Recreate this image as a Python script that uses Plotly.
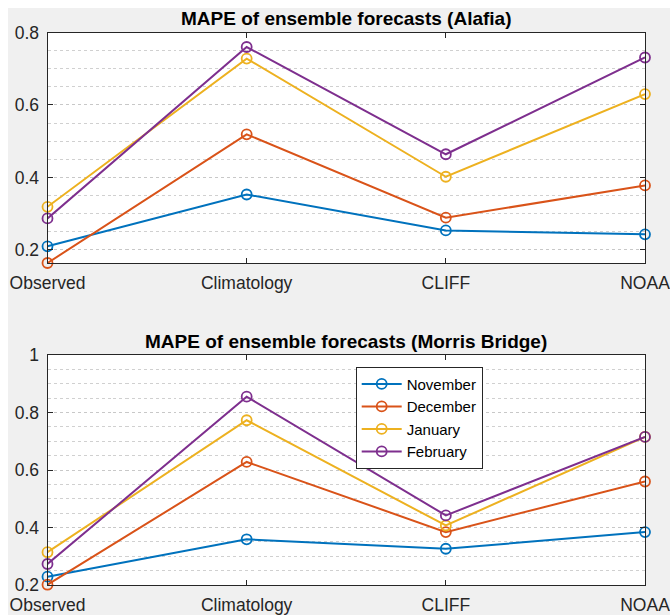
import plotly.graph_objects as go

categories = ["Observed", "Climatology", "CLIFF", "NOAA"]
months = ["November", "December", "January", "February"]
colors = ["#0072BD", "#D95319", "#EDB120", "#7E2F8E"]

alafia = {
    "November": [0.210, 0.353, 0.254, 0.243],
    "December": [0.164, 0.519, 0.289, 0.378],
    "January":  [0.319, 0.728, 0.402, 0.630],
    "February": [0.287, 0.760, 0.464, 0.731],
}
morris = {
    "November": [0.229, 0.359, 0.326, 0.384],
    "December": [0.201, 0.628, 0.384, 0.560],
    "January":  [0.314, 0.773, 0.407, 0.715],
    "February": [0.273, 0.855, 0.442, 0.715],
}
titles = ["MAPE of ensemble forecasts (Alafia)", "MAPE of ensemble forecasts (Morris Bridge)"]
top_ticks = [0.2, 0.4, 0.6, 0.8]
top_ticklabels = ["0.2", "0.4", "0.6", "0.8"]
bottom_ticks = [0.2, 0.4, 0.6, 0.8, 1.0]
bottom_ticklabels = ["0.2", "0.4", "0.6", "0.8", "1"]

W, H = 670, 615
FONT = "Liberation Sans, Arial, sans-serif"
AX = "#262626"

fig = go.Figure()
xpos = list(range(len(categories)))

for i, m in enumerate(months):
    fig.add_trace(go.Scatter(
        x=xpos, y=alafia[m], mode="lines+markers", name=m, showlegend=False,
        line=dict(color=colors[i], width=2),
        marker=dict(symbol="circle-open", size=10, color=colors[i], line=dict(width=1.8, color=colors[i])),
        cliponaxis=False, xaxis="x", yaxis="y"))
for i, m in enumerate(months):
    fig.add_trace(go.Scatter(
        x=xpos, y=morris[m], mode="lines+markers", name=m, showlegend=True,
        line=dict(color=colors[i], width=2),
        marker=dict(symbol="circle-open", size=10, color=colors[i], line=dict(width=1.8, color=colors[i])),
        cliponaxis=False, xaxis="x2", yaxis="y2"))

x0, x1 = 47.5 / W, 645 / W
dom_top = [1 - 263 / H, 1 - 32.5 / H]
dom_bot = [1 - 585 / H, 1 - 355 / H]

def xaxis(domain, anchor):
    return dict(domain=[x0, x1], anchor=anchor, range=[0, 3], tickvals=xpos, ticktext=categories,
                showgrid=False, zeroline=False, showline=True, linecolor=AX, linewidth=1,
                mirror="ticks", ticks="inside", ticklen=5, tickcolor=AX, tickwidth=1,
                tickfont=dict(family=FONT, size=17.5, color=AX), ticklabelstandoff=4,
                ticklabeloverflow="allow",
                automargin=False, fixedrange=True)

def yaxis(domain, anchor, rng, tv, tt):
    return dict(domain=domain, anchor=anchor, range=rng, tickvals=tv, ticktext=tt,
                showgrid=True, gridcolor="#c8c8c8", griddash="dot", gridwidth=1,
                minor=dict(dtick=0.05, tick0=0, showgrid=True, gridcolor="#d0d0d0", griddash="dot", gridwidth=1, ticks=""),
                zeroline=False, showline=True, linecolor=AX, linewidth=1,
                mirror="ticks", ticks="inside", ticklen=5, tickcolor=AX, tickwidth=1,
                tickfont=dict(family=FONT, size=17.5, color=AX), ticklabelstandoff=4,
                ticklabeloverflow="allow",
                automargin=False, fixedrange=True)

fig.update_layout(
    width=W, height=H,
    margin=dict(l=0, r=0, t=0, b=0),
    paper_bgcolor="#f0f0f0", plot_bgcolor="white",
    xaxis=xaxis(dom_top, "y"),
    yaxis=yaxis(dom_top, "x", [0.164, 0.8], top_ticks, top_ticklabels),
    xaxis2=xaxis(dom_bot, "y2"),
    yaxis2=yaxis(dom_bot, "x2", [0.2, 1.0], bottom_ticks, bottom_ticklabels),
    legend=dict(x=355.7 / W, y=1 - 366.7 / H, xanchor="left", yanchor="top",
                bgcolor="white", bordercolor=AX, borderwidth=1,
                font=dict(family=FONT, size=15, color="#000"),
                tracegroupgap=0, itemwidth=40),
    showlegend=True,
    shapes=[
        dict(type="rect", xref="paper", yref="paper", x0=0, x1=8 / W, y0=0, y1=1,
             fillcolor="white", line=dict(width=0), layer="below"),
        dict(type="rect", xref="paper", yref="paper", x0=0, x1=1, y0=1 - 8 / H, y1=1,
             fillcolor="white", line=dict(width=0), layer="below"),
    ],
    annotations=[
        dict(text="<b>%s</b>" % titles[0], xref="paper", yref="paper", x=(x0 + x1) / 2, y=1 - 18.5 / H,
             xanchor="center", yanchor="middle", showarrow=False,
             font=dict(family=FONT, size=19, color="#000")),
        dict(text="<b>%s</b>" % titles[1], xref="paper", yref="paper", x=(x0 + x1) / 2, y=1 - 341.5 / H,
             xanchor="center", yanchor="middle", showarrow=False,
             font=dict(family=FONT, size=19, color="#000")),
    ],
)

fig.write_html("out.html", config={"displayModeBar": False})
